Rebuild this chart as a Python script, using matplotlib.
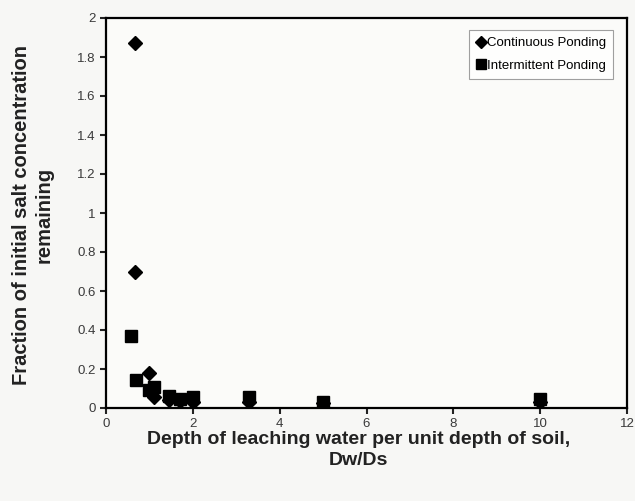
import matplotlib
matplotlib.use("Agg")
import matplotlib.pyplot as plt

cont_x = [0.66, 0.67, 1.0, 1.1, 1.45, 1.7, 2.0, 3.3, 5.0, 10.0]
cont_y = [1.87, 0.70, 0.18, 0.055, 0.04, 0.035, 0.03, 0.03, 0.025, 0.03]
inter_x = [0.58, 0.68, 0.98, 1.1, 1.45, 1.7, 2.0, 3.3, 5.0, 10.0]
inter_y = [0.37, 0.145, 0.09, 0.11, 0.06, 0.045, 0.055, 0.055, 0.03, 0.045]

x_ticks = [0, 2, 4, 6, 8, 10, 12]
y_ticks = [0, 0.2, 0.4, 0.6, 0.8, 1, 1.2, 1.4, 1.6, 1.8, 2]
y_tick_labels = ["0", "0.2", "0.4", "0.6", "0.8", "1", "1.2", "1.4", "1.6", "1.8", "2"]

plt.rcParams['font.family'] = ['Liberation Sans', 'DejaVu Sans']

fig = plt.figure(figsize=(6.35, 5.01), dpi=100)
fig.patch.set_facecolor('#f7f7f5')
ax = fig.add_axes([106/635, 1-408/501, (627-106)/635, (408-18)/501])
ax.set_facecolor('#fbfbf9')

ax.plot(cont_x, cont_y, linestyle='none', marker='D', markersize=7.5, color='black',
        label='Continuous Ponding', zorder=3)
ax.plot(inter_x, inter_y, linestyle='none', marker='s', markersize=8.5, color='black',
        label='Intermittent Ponding', zorder=4)

ax.set_xlim(0, 12)
ax.set_ylim(0, 2)
ax.set_xticks(x_ticks)
ax.set_yticks(y_ticks)
ax.set_yticklabels(y_tick_labels)
ax.tick_params(direction='out', length=4, width=1.5, labelsize=9.5, colors='#222222', labelcolor='#3a3a3a')
for sp in ax.spines.values():
    sp.set_linewidth(1.6)

ax.set_xlabel('Depth of leaching water per unit depth of soil,\nDw/Ds', fontsize=14,
              fontweight='bold', linespacing=1.3, color='#222222')
ax.xaxis.set_label_coords(0.485, -0.058)
ax.set_ylabel('Fraction of initial salt concentration\nremaining', fontsize=14.5,
              fontweight='bold', linespacing=1.25, color='#222222')
ax.yaxis.set_label_coords(-0.100, 0.495)

leg = ax.legend(loc='upper right', fontsize=9.5, frameon=True, fancybox=False,
                handletextpad=0.05, handlelength=0.8, borderpad=0.5, labelspacing=0.8,
                markerscale=0.85, bbox_to_anchor=(0.985, 0.985))
leg.get_frame().set_edgecolor('#888888')
leg.get_frame().set_linewidth(0.8)

fig.savefig('out.png', dpi=100, facecolor=fig.get_facecolor())
